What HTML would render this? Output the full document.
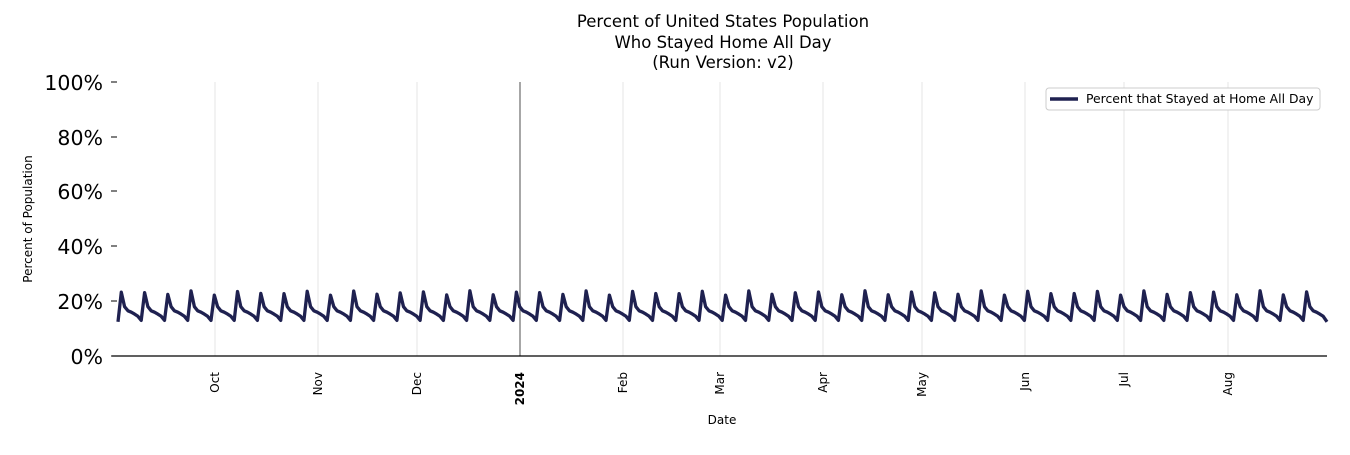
<!DOCTYPE html>
<html><head><style>
body{margin:0;background:#fff;font-family:"Liberation Sans","DejaVu Sans",sans-serif}
svg text{font-family:"DejaVu Sans","Liberation Sans",sans-serif}
</style></head><body>
<svg id="s" width="1350" height="450" xmlns="http://www.w3.org/2000/svg">
<rect width="1350" height="450" fill="#fff"/>
<text x="723" y="27" font-size="16.5" text-anchor="middle">Percent of United States Population</text>
<text x="723" y="48" font-size="16.5" text-anchor="middle">Who Stayed Home All Day</text>
<text x="723" y="68" font-size="16.5" text-anchor="middle">(Run Version: v2)</text>
<g id="grid" stroke="#e6e6e6" stroke-width="1"></g>
<line x1="520" y1="82" x2="520" y2="356" stroke="#222" stroke-width="0.8"/>
<line x1="112" y1="356" x2="1327" y2="356" stroke="#000" stroke-width="1.2"/>
<g font-size="20.5" text-anchor="end">
<text x="103" y="364">0%</text><line x1="111" y1="356" x2="117" y2="356" stroke="#000"/>
<text x="103" y="309">20%</text><line x1="111" y1="301" x2="117" y2="301" stroke="#000"/>
<text x="103" y="254">40%</text><line x1="111" y1="246" x2="117" y2="246" stroke="#000"/>
<text x="103" y="199">60%</text><line x1="111" y1="191" x2="117" y2="191" stroke="#000"/>
<text x="103" y="145">80%</text><line x1="111" y1="137" x2="117" y2="137" stroke="#000"/>
<text x="103" y="90">100%</text><line x1="111" y1="82" x2="117" y2="82" stroke="#000"/>
</g>
<text transform="translate(32,219) rotate(-90)" font-size="12" text-anchor="middle">Percent of Population</text>
<text x="722" y="424" font-size="12" text-anchor="middle">Date</text>
<g id="xl" font-size="12"></g>
<path id="p" fill="none" stroke="#1f2150" stroke-width="3.3" stroke-linejoin="round"/>
<rect x="1046" y="88" width="274" height="22" rx="3" fill="#fff" stroke="#ccc"/>
<line x1="1050" y1="99" x2="1078" y2="99" stroke="#1f2150" stroke-width="3.5"/>
<text x="1086" y="103" font-size="12.4">Percent that Stayed at Home All Day</text>
</svg>
<script>
var ns="http://www.w3.org/2000/svg";
var ticks=[[215,"Oct"],[318,"Nov"],[417,"Dec"],[520,"2024"],[623,"Feb"],[720,"Mar"],[823,"Apr"],[922,"May"],[1025,"Jun"],[1124,"Jul"],[1228,"Aug"]];
var g=document.getElementById("grid"),xl=document.getElementById("xl");
ticks.forEach(function(t){
 if(t[1]!="2024"){var l=document.createElementNS(ns,"line");l.setAttribute("x1",t[0]);l.setAttribute("x2",t[0]);l.setAttribute("y1",82);l.setAttribute("y2",356);g.appendChild(l);}
 var tx=document.createElementNS(ns,"text");tx.setAttribute("transform","translate("+(t[0]+4)+",372) rotate(-90)");tx.setAttribute("text-anchor","end");
 if(t[1]=="2024")tx.setAttribute("font-weight","bold");tx.textContent=t[1];xl.appendChild(tx);
});
var w=[23,18,16.5,16,15.3,14.5,13];
var d="";var px=3.32;
for(var i=0;i<=366;i++){
 var x=118+i*px;
 var v=i==0?12.5:w[(i-1)%7];
 if((i-1)%7==0&&i>0){v+= (Math.sin(i*0.37)*0.8);}
 if(x>=1326){x=1327;v=12.5;}
 var y=356-v*2.74;
 d+=(i?"L":"M")+x.toFixed(1)+","+y.toFixed(1);
 if(x>=1327)break;
}
document.getElementById("p").setAttribute("d",d);
</script>
</body></html>
